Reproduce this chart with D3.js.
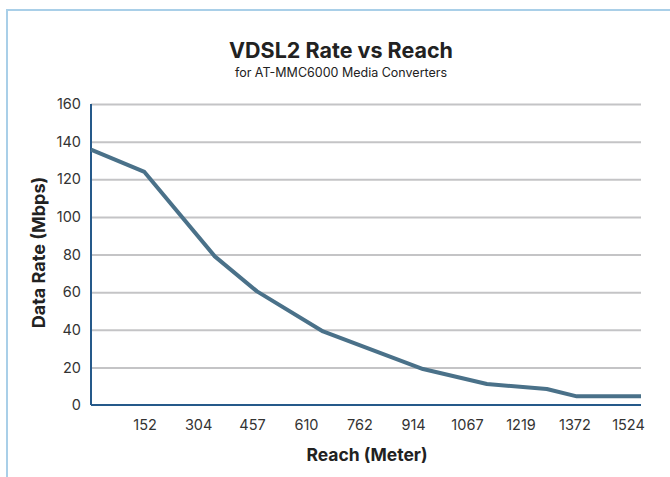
<!DOCTYPE html>
<html>
<head>
<meta charset="utf-8">
<script src="https://cdn.jsdelivr.net/npm/d3@7"></script>
<style>
  body { margin: 0; background: #fff; }
  svg { display: block; font-family: Inter, "Open Sans", sans-serif; }
</style>
</head>
<body>
<svg id="chart" width="670" height="477"></svg>
<script>
// data
const reach = [0, 148, 343, 460, 643, 920, 1097, 1263, 1346, 1524];
const rate = [135.7, 123.9, 79, 60.4, 39.1, 19.1, 11.2, 8.5, 4.6, 4.6];
const xTicks = [152, 304, 457, 610, 762, 914, 1067, 1219, 1372, 1524];
const yTicks = [0, 20, 40, 60, 80, 100, 120, 140, 160];

const margin = {top: 104, right: 29, bottom: 72, left: 91},
    width = 670 - margin.left - margin.right,
    height = 477 - margin.top - margin.bottom;

const svg = d3.select("#chart");

// light blue frame
svg.append("rect")
    .attr("x", 7)
    .attr("y", 10)
    .attr("width", 700)
    .attr("height", 500)
    .attr("fill", "none")
    .attr("stroke", "#a9cfe8")
    .attr("stroke-width", 2);

// titles
svg.append("text")
    .attr("x", 341)
    .attr("y", 58)
    .attr("text-anchor", "middle")
    .style("font-size", "21.5px")
    .style("font-weight", 700)
    .style("fill", "#222")
    .text("VDSL2 Rate vs Reach");

svg.append("text")
    .attr("x", 341)
    .attr("y", 77)
    .attr("text-anchor", "middle")
    .style("font-size", "12.5px")
    .style("fill", "#222")
    .text("for AT-MMC6000 Media Converters");

const g = svg.append("g")
    .attr("transform", "translate(" + margin.left + "," + margin.top + ")");

const xScale = d3.scaleLinear().domain([0, 1524]).range([0, width]);
// the category labels sit a little left of the data positions
const xLabelScale = d3.scaleLinear().domain([0, 1524]).range([0, width - 13]);
const yScale = d3.scaleLinear().domain([0, 160]).range([height, 0]);

// gridlines
g.append("g")
    .attr("class", "grid")
    .call(d3.axisLeft(yScale).tickValues(yTicks.slice(1)).tickSize(-width).tickFormat(""))
    .call(function (s) { s.select(".domain").remove(); })
    .selectAll("line")
    .attr("stroke", "#c4c4c6")
    .attr("stroke-width", 2);

// y axis labels
g.append("g")
    .attr("class", "y-axis")
    .call(d3.axisLeft(yScale).tickValues(yTicks).tickSize(0).tickPadding(10))
    .call(function (s) { s.select(".domain").remove(); })
    .selectAll("text")
    .style("font-size", "14.5px")
    .style("font-family", "Inter, 'Open Sans', sans-serif")
    .style("fill", "#333");

// x axis labels
g.append("g")
    .attr("class", "x-axis")
    .attr("transform", "translate(0," + height + ")")
    .call(d3.axisBottom(xLabelScale).tickValues(xTicks).tickSize(0).tickPadding(15).tickFormat(d3.format("d")))
    .call(function (s) { s.select(".domain").remove(); })
    .selectAll("text")
    .style("font-size", "14.5px")
    .style("font-family", "Inter, 'Open Sans', sans-serif")
    .style("fill", "#333");

// axis lines
g.append("line")
    .attr("x1", 0).attr("x2", 0)
    .attr("y1", yScale(160)).attr("y2", yScale(0))
    .attr("stroke", "#25598a")
    .attr("stroke-width", 2);

g.append("line")
    .attr("x1", 0).attr("x2", xScale(1524))
    .attr("y1", yScale(0)).attr("y2", yScale(0))
    .attr("stroke", "#25598a")
    .attr("stroke-width", 2);

// the rate line
const data = reach.map(function (d, i) { return {reach: d, rate: rate[i]}; });

g.append("path")
    .datum(data)
    .attr("fill", "none")
    .attr("stroke", "#4a7189")
    .attr("stroke-width", 4)
    .attr("stroke-linejoin", "round")
    .attr("d", d3.line()
        .x(function (d) { return xScale(d.reach); })
        .y(function (d) { return yScale(d.rate); }));

// axis titles
svg.append("text")
    .attr("x", 367)
    .attr("y", 461)
    .attr("text-anchor", "middle")
    .style("font-size", "17.5px")
    .style("font-weight", 700)
    .style("fill", "#222")
    .text("Reach (Meter)");

svg.append("text")
    .attr("transform", "translate(45," + (margin.top + height / 2 - 2) + ") rotate(-90)")
    .attr("text-anchor", "middle")
    .style("font-size", "18px")
    .style("font-weight", 700)
    .style("fill", "#222")
    .text("Data Rate (Mbps)");
</script>
</body>
</html>
